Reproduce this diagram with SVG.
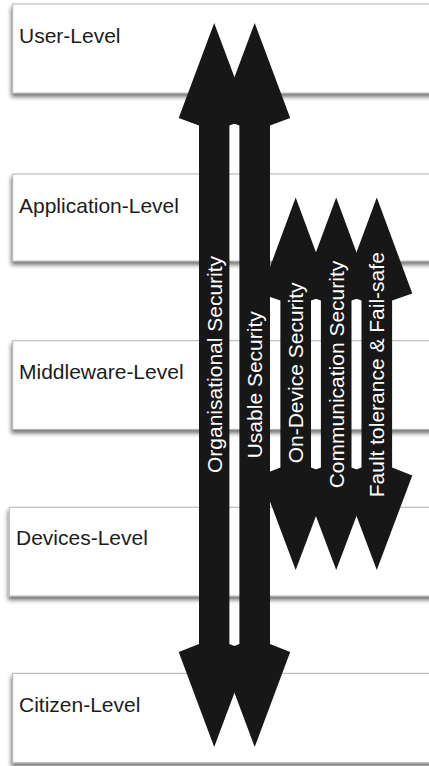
<svg xmlns="http://www.w3.org/2000/svg" width="429" height="766" viewBox="0 0 429 766">
<style>
.box{fill:#fff;stroke:#b4b4b4;stroke-width:1;filter:url(#sh)}
.lvl{font-family:"Liberation Sans",Arial,sans-serif;font-size:21px;fill:#1c1c1c}
.arr{fill:#171717}
.lab{font-family:"Liberation Sans",Arial,sans-serif;font-size:21px;fill:#fff}
</style>
<defs>
<filter id="sh" x="-10%" y="-20%" width="120%" height="150%">
<feDropShadow dx="-1" dy="3.5" stdDeviation="2" flood-color="#000" flood-opacity="0.55"/>
</filter>
</defs>
<rect width="429" height="766" fill="#fff"/>
<g id="user-level"><rect class="box" x="12.7" y="4" width="430" height="89"/><text class="lvl" x="19" y="43">User-Level</text></g>
<g id="application-level"><rect class="box" x="12.7" y="174" width="430" height="87"/><text class="lvl" x="19" y="213.3">Application-Level</text></g>
<g id="middleware-level"><rect class="box" x="12.7" y="340.7" width="430" height="88.6"/><text class="lvl" x="19" y="379.3">Middleware-Level</text></g>
<g id="devices-level"><rect class="box" x="9.3" y="507.3" width="430" height="88.7"/><text class="lvl" x="16" y="545">Devices-Level</text></g>
<g id="citizen-level"><rect class="box" x="12.7" y="673.3" width="430" height="89.4"/><text class="lvl" x="19" y="711.7">Citizen-Level</text></g>
<g id="connectors">
<polygon id="on-device-security" class="arr" points="295.7,197.5 331.2,293.5 311,300.5 311,467.5 331.2,475.5 295.7,570 260.2,475.5 280.4,467.5 280.4,300.5 260.2,293.5"/>
<polygon id="communication-security" class="arr" points="336.2,197.5 371.7,293.5 351.5,300.5 351.5,467.5 371.7,475.5 336.2,570 300.7,475.5 320.9,467.5 320.9,300.5 300.7,293.5"/>
<polygon id="fault-tolerance" class="arr" points="376.8,197.5 412.3,293.5 392.1,300.5 392.1,467.5 412.3,475.5 376.8,570 341.3,475.5 361.5,467.5 361.5,300.5 341.3,293.5"/>
<polygon id="organisational-security" class="arr" points="214.2,23 249.7,118 229.4,125.5 229.4,644 249.7,652 214.2,747 178.7,652 199,644 199,125.5 178.7,118"/>
<polygon id="usable-security" class="arr" points="254.7,23 290.2,118 270,125.5 270,644 290.2,652 254.7,747 219.2,652 239.4,644 239.4,125.5 219.2,118"/>
</g>
<g id="connector-labels">
<text class="lab" transform="translate(303.2,463.3) rotate(-90)">On-Device Security</text>
<text class="lab" transform="translate(343.6,488.3) rotate(-90)">Communication Security</text>
<text class="lab" transform="translate(384.2,497.3) rotate(-90)">Fault tolerance &amp; Fail-safe</text>
<text class="lab" transform="translate(221.7,473) rotate(-90)">Organisational Security</text>
<text class="lab" transform="translate(262.2,458.3) rotate(-90)">Usable Security</text>
</g>
</svg>
